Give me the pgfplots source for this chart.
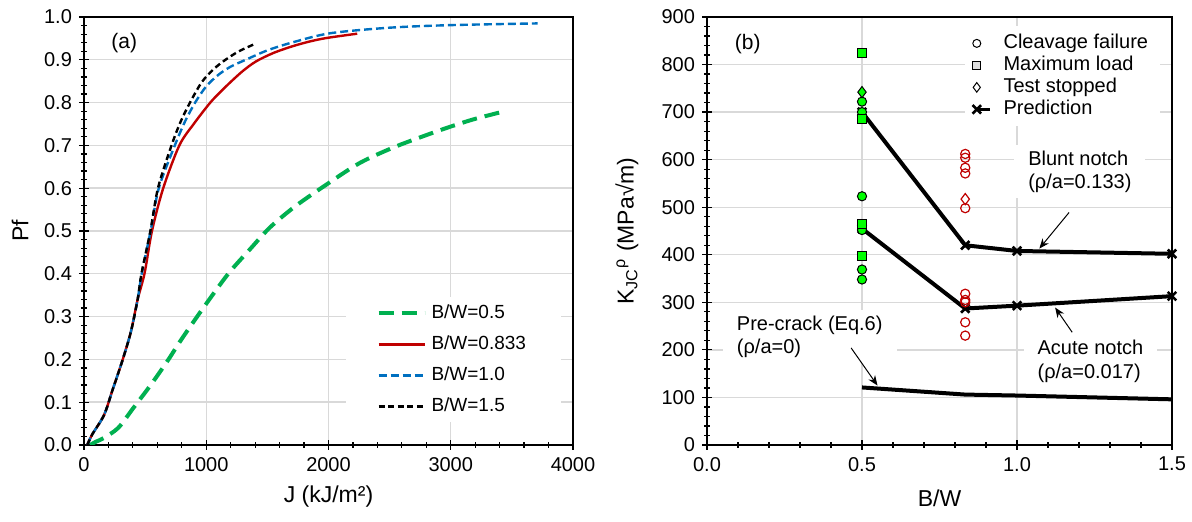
\documentclass[border=0pt]{standalone}
\usepackage{fontspec}
\setmainfont{Liberation Sans}
\usepackage{amsmath}
\usepackage{pgfplots}
\pgfplotsset{compat=1.18}
\usetikzlibrary{arrows.meta}

\definecolor{cgreen}{HTML}{00B050}
\definecolor{cred}{HTML}{C00000}
\definecolor{cblue}{HTML}{0070C0}
\definecolor{clime}{HTML}{00FF00}
\definecolor{cgrid}{HTML}{D9D9D9}

\pgfplotsset{
  xl/.style={
    scale only axis, height=214pt,
    axis line style={line width=0.8pt},
    grid=major, major grid style={cgrid, line width=0.7pt},
    tick style={black, line width=0.6pt},
    major tick length=5pt, minor tick length=3pt, tick align=center,
    xtick pos=left, ytick pos=left,
    scaled ticks=false,
    /pgf/number format/assume math mode=true,
    tick label style={font=\fontsize{10}{12}\selectfont},
    label style={font=\fontsize{11.5}{14}\selectfont},
  },
  linelegend/.style={legend image code/.code={\draw[##1] (0pt,0pt) -- (23pt,0pt);}},
  marklegend/.style={legend image code/.code={\path[draw=none, fill=none] (0cm,0cm) rectangle (0.4cm,0cm); \draw[##1] plot coordinates {(0cm,0cm)};}},
  predlegend/.style={legend image code/.code={\path[draw=none, fill=none] (0cm,0cm) rectangle (0.4cm,0cm); \draw[mark repeat=2, mark phase=1, ##1] plot coordinates {(0cm,0cm) (0.23cm,0cm)};}},
}

\begin{document}
\begin{tikzpicture}
\useasboundingbox (-42pt,-38.5pt) rectangle (554pt,222.5pt);

% (a) failure probability
\begin{axis}[xl, at={(0pt,0pt)}, anchor=south west, width=244.5pt,
  xmin=0, xmax=4000, ymin=0, ymax=1,
  xtick={0,1000,2000,3000,4000},
  ytick={0,0.1,0.2,0.3,0.4,0.5,0.6,0.7,0.8,0.9,1.0},
  minor x tick num=4, minor y tick num=4,
  yticklabel style={/pgf/number format/.cd, fixed, fixed zerofill, precision=1},
  xticklabel style={/pgf/number format/1000 sep={}},
  xlabel={J (kJ/m²)}, ylabel={Pf},
  xlabel style={at={(axis description cs:0.5,-0.1215)}, anchor=center},
  ylabel style={at={(axis description cs:-0.131,0.5)}, anchor=center},
  legend style={at={(0.536,0.052)}, anchor=south west, draw=none, fill=white,
    font=\fontsize{9.5}{11}\selectfont, inner xsep=15pt, inner ysep=3.5pt,
    row sep=6.5pt, nodes={inner xsep=2.5pt, inner ysep=0pt, text height=7pt, text depth=2pt}},
  legend cell align=left,
  linelegend,
]
\addplot[cgreen, line width=2pt, dash pattern=on 7.5pt off 4pt, smooth] coordinates {
  (50,0) (100,0.008) (160,0.016) (280,0.040) (400,0.085) (540,0.138)
  (680,0.195) (800,0.248) (980,0.322) (1180,0.400) (1360,0.458)
  (1520,0.508) (1720,0.556) (1960,0.604) (2250,0.658) (2530,0.695)
  (2800,0.724) (3000,0.744) (3200,0.762) (3444,0.780)};
\addplot[cred, line width=1.2pt, smooth] coordinates {
  (25,0) (68,0.025) (164,0.07) (233,0.128) (316,0.199) (384,0.265)
  (438,0.339) (496,0.402) (556,0.50) (648,0.60) (780,0.70)
  (900,0.751) (1033,0.80) (1120,0.826) (1199,0.848) (1300,0.874) (1406,0.896)
  (1550,0.916) (1710,0.932) (1850,0.943) (1986,0.951) (2235,0.961)};
\addplot[cblue, line width=1.2pt, dash pattern=on 4pt off 2pt, smooth] coordinates {
  (27,0) (68,0.025) (164,0.07) (233,0.128) (316,0.199) (384,0.265)
  (438,0.339) (472,0.40) (545,0.50) (612,0.60) (743,0.70) (825,0.755)
  (909,0.80) (1000,0.838) (1100,0.865) (1200,0.884) (1323,0.90)
  (1500,0.922) (1710,0.941) (2014,0.962) (2500,0.975) (3000,0.981) (3711,0.985)};
\addplot[black, line width=1.2pt, dash pattern=on 3pt off 1.8pt, smooth] coordinates {
  (27,0) (68,0.025) (164,0.07) (233,0.128) (316,0.199) (384,0.265)
  (438,0.339) (470,0.40) (543,0.50) (605,0.60) (716,0.70) (790,0.755)
  (867,0.80) (964,0.848) (1060,0.878) (1157,0.90) (1268,0.92) (1406,0.938)};
\legend{B/W=0.5, B/W=0.833, B/W=1.0, B/W=1.5}
\node[anchor=west, font=\fontsize{10.5}{12}\selectfont] at (axis cs:166,0.938) {(a)};
\end{axis}

% (b) fracture toughness vs B/W
\begin{axis}[xl, at={(311.5pt,0pt)}, anchor=south west, width=232.5pt,
  xmin=0, xmax=1.5, ymin=0, ymax=900,
  xtick={0,0.5,1.0,1.5}, ytick={0,100,...,900},
  minor x tick num=4, minor y tick num=4,
  xticklabel style={/pgf/number format/.cd, fixed, fixed zerofill, precision=1},
  xlabel={B/W}, ylabel={K$_{\text{JC}}$$^{\text{ρ}}$ (MPa√m)},
  xlabel style={at={(axis description cs:0.5,-0.124)}, anchor=center},
  ylabel style={at={(axis description cs:-0.172,0.5)}, anchor=center},
  legend style={at={(0.553,0.979)}, anchor=north west, draw=none, fill=white,
    font=\fontsize{10}{12}\selectfont, inner xsep=4pt, inner ysep=3pt,
    row sep=0pt, nodes={inner xsep=2pt, inner ysep=0.75pt, text height=7.5pt, text depth=2pt}},
  legend cell align=left,
]
% predictions
\addplot[black, line width=2pt, forget plot] coordinates {
  (0.5,121) (0.833,106) (1.0,104) (1.5,96)};
\addplot[black, line width=2pt, mark=x, mark size=3pt,
  mark options={line width=1.3pt}, forget plot] coordinates {
  (0.5,700) (0.833,420) (1.0,408) (1.5,402)};
\addplot[black, line width=2pt, mark=x, mark size=3pt,
  mark options={line width=1.3pt}, forget plot] coordinates {
  (0.5,455) (0.833,287) (1.0,293) (1.5,313)};
% cleavage failure
\addplot[only marks, mark=*, mark size=2.3pt, mark options={fill=clime, draw=black, line width=0.5pt},
  forget plot] coordinates {
  (0.5,722) (0.5,700) (0.5,523) (0.5,452) (0.5,369) (0.5,348)};
\addplot[only marks, mark=o, mark size=2.3pt, mark options={draw=cred, line width=0.6pt},
  forget plot] coordinates {
  (0.833,612) (0.833,604) (0.833,583) (0.833,571) (0.833,498)
  (0.833,318) (0.833,305) (0.833,300) (0.833,258) (0.833,230)};
% maximum load
\addplot[only marks, mark=square*, mark size=2.3pt, mark options={fill=clime, draw=black, line width=0.5pt},
  forget plot] coordinates {
  (0.5,824) (0.5,686) (0.5,464) (0.5,397)};
% test stopped
\addplot[only marks, mark=diamond*, mark size=2.8pt, mark options={fill=clime, draw=black, line width=0.5pt},
  forget plot] coordinates {(0.5,742)};
\addplot[only marks, mark=diamond, mark size=2.8pt, mark options={draw=cred, line width=0.6pt},
  forget plot] coordinates {(0.833,517)};

\addlegendimage{only marks, mark=o, mark size=2pt, black, line width=0.5pt, marklegend}
\addlegendentry{Cleavage failure}
\addlegendimage{only marks, mark=square*, mark size=2pt, mark options={fill=gray!25, draw=black, line width=0.5pt}, marklegend}
\addlegendentry{Maximum load}
\addlegendimage{only marks, mark=diamond, mark size=2.4pt, black, line width=0.5pt, marklegend}
\addlegendentry{Test stopped}
\addlegendimage{black, line width=1.8pt, mark=x, mark size=3pt, mark options={line width=1.3pt}, predlegend}
\addlegendentry{Prediction}

\node[anchor=west, font=\fontsize{10.5}{12}\selectfont] at (axis cs:0.067,844) {(b)};
\node[anchor=west, align=left, fill=white, inner xsep=7pt, inner ysep=3pt,
  font=\fontsize{10}{11.6}\selectfont] at (axis cs:0.99,575) {Blunt notch\\(ρ/a=0.133)};
\node[anchor=west, align=left, fill=white, inner xsep=7pt, inner ysep=3pt,
  font=\fontsize{10}{11.6}\selectfont] at (axis cs:1.02,176) {Acute notch\\(ρ/a=0.017)};
\node[anchor=west, align=left, fill=white, inner xsep=7pt, inner ysep=3pt,
  font=\fontsize{10}{11.6}\selectfont] at (axis cs:0.05,228) {Pre-crack (Eq.6)\\(ρ/a=0)};
\draw[-{Stealth[length=5pt,width=4pt]}, line width=0.5pt] (axis cs:1.168,489) -- (axis cs:1.072,413);
\draw[-{Stealth[length=5pt,width=4pt]}, line width=0.5pt] (axis cs:1.178,237) -- (axis cs:1.123,289);
\draw[-{Stealth[length=5pt,width=4pt]}, line width=0.5pt] (axis cs:0.465,204) -- (axis cs:0.55,125);
\end{axis}
\end{tikzpicture}
\end{document}
